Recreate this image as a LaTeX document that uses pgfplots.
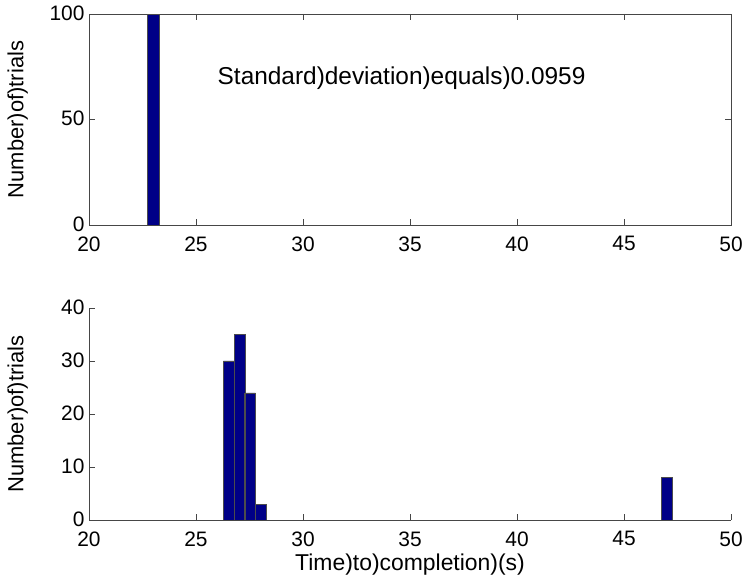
\documentclass[border=0pt]{standalone}
\usepackage{pgfplots}
\pgfplotsset{compat=1.18}
\usepackage{fontspec}
\setmainfont{Liberation Sans}
\definecolor{barblue}{RGB}{0,0,135}
\definecolor{axgray}{RGB}{70,70,70}

\pgfplotsset{
  histax/.style={
    scale only axis,
    width=642bp,
    xmin=20, xmax=50,
    xtick={20,25,...,50},
    tick align=inside,
    major tick length=6bp,
    axis line style={axgray, line width=0.9pt},
    every tick/.style={axgray, line width=0.7pt},
    tick label style={font=\fontsize{21}{24}\selectfont},
    label style={font=\fontsize{22}{25}\selectfont},
    /pgf/number format/assume math mode=true,
    xticklabel style={yshift=-8bp},
    yticklabel style={xshift=-1bp, yshift=1bp},
    y label style={at={(axis description cs:-0.111,0.5)}, anchor=center},
  },
  histbar/.style={ybar, fill=barblue, draw=black!70, line width=0.5pt},
}

\begin{document}
\begin{tikzpicture}[x=1bp,y=1bp]
\useasboundingbox (0,0) rectangle (745,583);

% top: one bin, all trials
\begin{axis}[
  histax,
  at={(89bp,358bp)}, anchor=south west,
  height=211bp,
  ymin=0, ymax=100,
  ytick={0,50,100},
  ylabel={Number)of)trials},
]
\addplot[histbar, bar width=0.57] coordinates {(23.02,100)};
\node[anchor=west, font=\fontsize{24.5}{27}\selectfont] at (axis cs:25.85,69.5) {Standard)deviation)equals)0.0959};
\end{axis}

% bottom
\begin{axis}[
  histax,
  at={(89bp,63bp)}, anchor=south west,
  height=212bp,
  axis x line*=bottom, axis y line*=left,
  ymin=0, ymax=40,
  ytick={0,10,...,40},
  ylabel={Number)of)trials},
  xlabel={Time)to)completion)(s)},
  x label style={at={(axis description cs:0.5,-0.208)}, anchor=center,
                 font=\fontsize{23}{26}\selectfont},
]
\addplot[histbar, bar width=0.5] coordinates {
  (26.53,30) (27.03,35) (27.52,24) (28.02,3) (46.99,8)
};
\end{axis}
\end{tikzpicture}
\end{document}
